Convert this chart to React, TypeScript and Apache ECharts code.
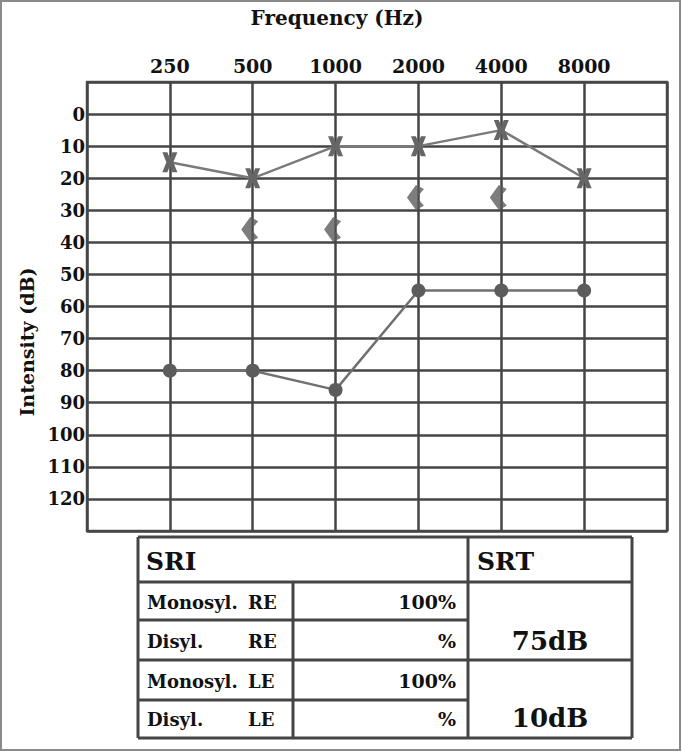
import React, { useEffect, useRef } from "react";
import * as echarts from "echarts";

const frequencies = ["250", "500", "1000", "2000", "4000", "8000"];
const rightEar = [80, 80, 86, 55, 55, 55];
const leftEar = [15, 20, 10, 10, 5, 20];
const boneFreqIndex = [1, 2, 3, 4];
const boneValues = [36, 36, 26, 26];
const sriLabels = ["Monosyl.", "Disyl.", "Monosyl.", "Disyl."];
const sriEars = ["RE", "RE", "LE", "LE"];
const sriValues = ["100%", "%", "100%", "%"];
const srtValues = ["75dB", "10dB"];

const FONT = "DejaVu Serif";
const LINE = "#454545";

export default function App() {
  const ref = useRef<HTMLDivElement>(null);
  useEffect(() => {
    document.body.style.margin = "0";
    const chart = echarts.init(ref.current!, null, { renderer: "svg" });
    const xPath =
      "path://M0,0 L5,0 L7.5,6 L10,0 L15,0 L11,10 L15,20 L10,20 L7.5,14 L5,20 L0,20 L4,10 Z";
    const chevPath = "path://M9,0 L17,4 L10,12 L17,20 L9,24 L0,12 Z";

    const tbl = { l: 138, r: 632, t: 537, b: 738, c1: 293, c2: 468, h: 582, r1: 620, r2: 660, r3: 700 };
    const lines: any[] = [
      [tbl.l, tbl.t, tbl.r, tbl.t],
      [tbl.l, tbl.b, tbl.r, tbl.b],
      [tbl.l, tbl.t, tbl.l, tbl.b],
      [tbl.r, tbl.t, tbl.r, tbl.b],
      [tbl.c2, tbl.t, tbl.c2, tbl.b],
      [tbl.c1, tbl.h, tbl.c1, tbl.b],
      [tbl.l, tbl.h, tbl.r, tbl.h],
      [tbl.l, tbl.r1, tbl.c2, tbl.r1],
      [tbl.l, tbl.r2, tbl.r, tbl.r2],
      [tbl.l, tbl.r3, tbl.c2, tbl.r3],
    ].map(([x1, y1, x2, y2]) => ({
      type: "line",
      shape: { x1, y1, x2, y2 },
      style: { stroke: LINE, lineWidth: 3 },
    }));
    const rowY = [602, 641, 681, 719];
    const texts: any[] = [];
    sriLabels.forEach((lab, i) => {
      texts.push({
        type: "text",
        x: 147,
        y: rowY[i],
        style: { text: lab, font: `bold 18px "${FONT}"`, fill: "#111", verticalAlign: "middle" },
      });
      texts.push({
        type: "text",
        x: 248,
        y: rowY[i],
        style: { text: sriEars[i], font: `bold 18px "${FONT}"`, fill: "#111", verticalAlign: "middle" },
      });
      texts.push({
        type: "text",
        x: 456,
        y: rowY[i],
        style: { text: sriValues[i], font: `bold 19px "${FONT}"`, fill: "#111", align: "right", verticalAlign: "middle" },
      });
    });
    srtValues.forEach((v, i) => {
      texts.push({
        type: "text",
        x: 550,
        y: i === 0 ? 641 : 718,
        style: { text: v, font: `bold 26px "${FONT}"`, fill: "#111", align: "center", verticalAlign: "middle" },
      });
    });
    texts.push({
      type: "text", x: 146, y: 561,
      style: { text: "SRI", font: `bold 25px "${FONT}"`, fill: "#111", verticalAlign: "middle" },
    });
    texts.push({
      type: "text", x: 477, y: 561,
      style: { text: "SRT", font: `bold 25px "${FONT}"`, fill: "#111", verticalAlign: "middle" },
    });

    chart.setOption({
      animation: false,
      backgroundColor: "#fff",
      grid: { left: 87, top: 82, width: 580, height: 449, show: true, borderColor: "#555", borderWidth: 2.5 },
      xAxis: {
        type: "value",
        position: "top",
        min: 0,
        max: 7,
        interval: 1,
        axisLine: { show: false },
        axisTick: { show: false },
        axisLabel: {
          margin: 7,
          fontFamily: FONT,
          fontWeight: "bold",
          fontSize: 19,
          color: "#111",
          formatter: (v: number) => (v >= 1 && v <= 6 ? frequencies[v - 1] : ""),
        },
        splitLine: { show: true, lineStyle: { color: LINE, width: 2.5 } },
      },
      yAxis: {
        type: "value",
        inverse: true,
        min: -10,
        max: 130,
        interval: 10,
        axisLine: { show: false },
        axisTick: { show: false },
        axisLabel: {
          margin: 2,
          fontFamily: FONT,
          fontWeight: "bold",
          fontSize: 18,
          color: "#111",
          formatter: (v: number) => (v >= 0 && v <= 120 ? String(v) : ""),
        },
        splitLine: { show: true, lineStyle: { color: LINE, width: 2.5 } },
      },
      graphic: [
        {
          type: "rect",
          shape: { x: 1, y: 1, width: 679, height: 749 },
          style: { fill: "none", stroke: "#8a8a8a", lineWidth: 2 },
          z: -1,
        },
        {
          type: "text",
          x: 337,
          y: 18,
          style: { text: "Frequency (Hz)", font: `bold 20px "${FONT}"`, fill: "#111", align: "center", verticalAlign: "middle" },
        },
        {
          type: "text",
          x: 27,
          y: 342,
          rotation: Math.PI / 2,
          style: { text: "Intensity (dB)", font: `bold 19px "${FONT}"`, fill: "#111", align: "center", verticalAlign: "middle" },
        },
        ...lines,
        ...texts,
      ],
      series: [
        {
          type: "line",
          name: "Right ear",
          data: rightEar.map((v, i) => [i + 1, v]),
          symbol: "circle",
          symbolSize: 14,
          itemStyle: { color: "#5c5c5c" },
          lineStyle: { color: "#707070", width: 2.5 },
          z: 5,
        },
        {
          type: "line",
          name: "Left ear",
          data: leftEar.map((v, i) => [i + 1, v]),
          symbol: xPath,
          symbolSize: [15, 20],
          itemStyle: { color: "#666" },
          lineStyle: { color: "#7a7a7a", width: 2.5 },
          z: 5,
        },
        {
          type: "scatter",
          name: "Bone",
          data: boneValues.map((v, i) => [boneFreqIndex[i] + 1, v]),
          symbol: chevPath,
          symbolSize: [17, 25],
          symbolOffset: [-3, 0],
          itemStyle: { color: "#5c5c5c" },
          z: 5,
        },
      ],
    });
    return () => chart.dispose();
  }, []);
  return <div ref={ref} style={{ width: 682, height: 752 }} />;
}
